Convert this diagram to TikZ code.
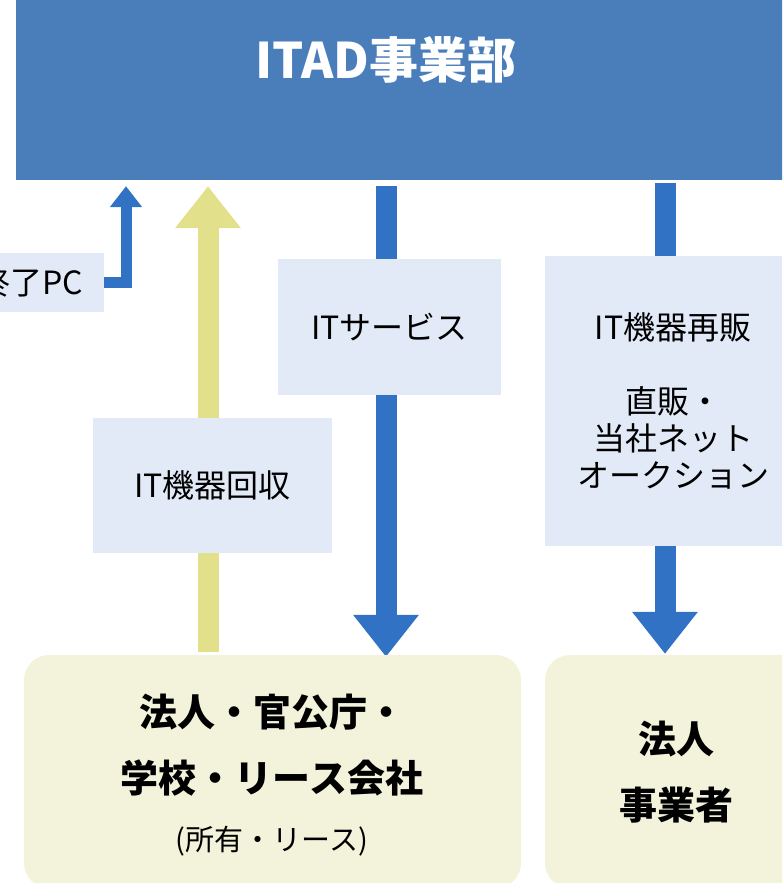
\documentclass[tikz,border=0pt]{standalone}
\usepackage{fontspec}
\setmainfont{Noto Sans CJK JP}
\usetikzlibrary{calc,arrows.meta,backgrounds}

\definecolor{itadblue}{RGB}{74,126,187}
\definecolor{flowblue}{RGB}{49,114,196}
\definecolor{labelbg}{RGB}{227,234,247}
\definecolor{flowyellow}{RGB}{226,224,138}
\definecolor{clientbg}{RGB}{242,243,218}

\tikzset{
  labelbox/.style={fill=labelbg, inner sep=0pt, align=center, font=\fontsize{32}{37}\selectfont},
  clientbox/.style={fill=clientbg, rounded corners=25pt, inner sep=0pt},
  clienttext/.style={align=center, font=\fontsize{38}{66}\selectfont\bfseries},
  bigflow/.style={line width=21pt, -{Triangle[width=63pt,length=42pt]}},
}

\begin{document}
\begin{tikzpicture}[x=1pt,y=-1pt]
\useasboundingbox (0,0) rectangle (782,883);
\clip (0,0) rectangle (782,883);

% 上部
\node[fill=itadblue, minimum width=784pt, minimum height=180pt, inner sep=0pt] (itad) at (408,90) {};
\node[text=white, font=\fontsize{49}{52}\selectfont\bfseries] (itadname) at (386,60) {ITAD事業部};

% 中間
\node[labelbox, inner xsep=21pt, minimum height=59pt, anchor=east] (endpc) at (104,282.5) {終了PC};
\node[labelbox, minimum width=223pt, minimum height=136pt] (service) at (389.5,327) {ITサービス};
\node[labelbox, minimum width=239pt, minimum height=135pt] (collect) at (212.5,485.5) {IT機器回収};
\node[labelbox, minimum width=256pt, minimum height=290pt] (resale) at (673,401)
  {IT機器再販\\[37pt]直販・\\当社ネット\\オークション};

% 下部
\node[clientbox, minimum width=497pt, minimum height=233pt] (corp) at (272.5,771.5) {};
\node[clienttext] (corpname) at (272,745) {法人・官公庁・\\学校・リース会社};
\node[font=\fontsize{29}{34}\selectfont] (corpnote) at (272,841) {(所有・リース)};
\node[clientbox, minimum width=260pt, minimum height=233pt] (biz) at (675,771.5) {};
\node[clienttext] (bizname) at (676,772) {法人\\事業者};

\coordinate (lane0) at (126,0);
\coordinate (lane1) at (208,0);
\coordinate (lane2) at (386,0);
\coordinate (lane3) at (665,0);

% 矢印
\begin{scope}[on background layer]
\draw[flowblue, line width=11pt, -{Triangle[width=31pt,length=21pt]}]
  (endpc.east) -| ($(itad.south -| lane0)+(0,6)$);
\draw[bigflow, flowyellow] ($(corp.north -| lane1)+(0,-3)$) -- ($(itad.south -| lane1)+(0,6)$);
\draw[bigflow, flowblue] ($(itad.south -| lane2)+(0,6)$) -- ($(corp.north -| lane2)+(0,2)$);
\draw[bigflow, flowblue] ($(itad.south -| lane3)+(0,3)$) -- ($(biz.north -| lane3)+(0,-1)$);
\end{scope}

\end{tikzpicture}
\end{document}
